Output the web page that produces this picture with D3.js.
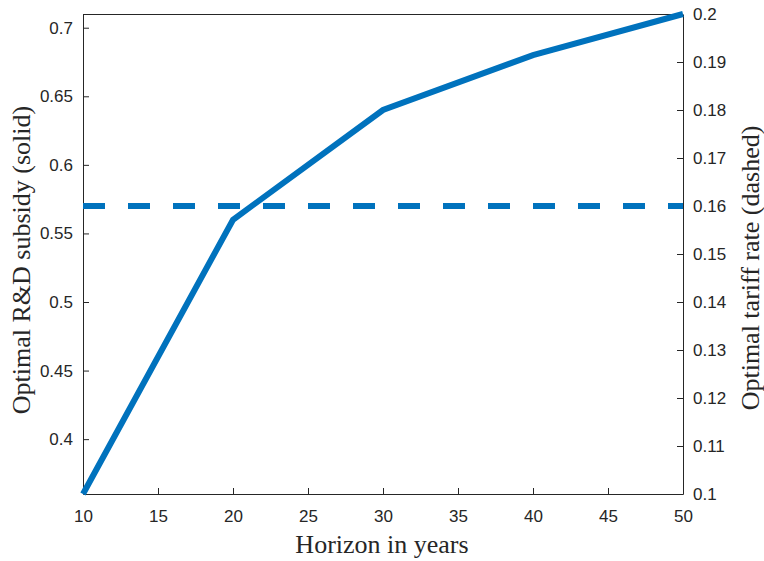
<!DOCTYPE html>
<html><head><meta charset="utf-8">
<script src="https://cdn.jsdelivr.net/npm/d3@7"></script>
<style>body{margin:0;background:#fff}</style>
</head><body>
<svg id="c" width="764" height="561"></svg>
<script>
const horizons = [10, 20, 30, 40, 50];
const subsidy = [0.36, 0.56, 0.64, 0.68, 0.71];
const tariff = [0.16, 0.16, 0.16, 0.16, 0.16];
const xTicks = [10, 15, 20, 25, 30, 35, 40, 45, 50];
const yLeftTicks = [0.4, 0.45, 0.5, 0.55, 0.6, 0.65, 0.7];
const yRightTicks = [0.1, 0.11, 0.12, 0.13, 0.14, 0.15, 0.16, 0.17, 0.18, 0.19, 0.2];

const L = 83, R = 683, T = 14, B = 494;
const svg = d3.select("#c");
const x = d3.scaleLinear().domain([10, 50]).range([L, R]);
const yL = d3.scaleLinear().domain([0.36, 0.71]).range([B, T]);
const yR = d3.scaleLinear().domain([0.1, 0.2]).range([B, T]);
const color = "#0072BD";
const tickFont = "Liberation Sans, Arial, sans-serif";
const labFont = "Liberation Serif, Times New Roman, serif";

function style(g){
  g.selectAll("path.domain").attr("stroke","#262626").attr("stroke-width",1);
  g.selectAll(".tick line").attr("stroke","#262626");
  g.selectAll(".tick text").attr("font-family",tickFont).attr("font-size",17).attr("fill","#262626");
}
const fmt = d => String(+d.toFixed(3));

svg.append("g").attr("transform",`translate(0,${B})`)
  .call(d3.axisBottom(x).tickValues(xTicks).tickSizeInner(-6).tickSizeOuter(0).tickPadding(16).tickFormat(fmt))
  .call(style);
svg.append("g").attr("transform",`translate(${L},0)`)
  .call(d3.axisLeft(yL).tickValues(yLeftTicks).tickSizeInner(-6).tickSizeOuter(0).tickPadding(10).tickFormat(fmt))
  .call(style);
svg.append("g").attr("transform",`translate(${R},0)`)
  .call(d3.axisRight(yR).tickValues(yRightTicks).tickSizeInner(-6).tickSizeOuter(0).tickPadding(10).tickFormat(fmt))
  .call(style);
svg.append("line").attr("x1",L).attr("x2",R).attr("y1",T+0.5).attr("y2",T+0.5).attr("stroke","#262626");

const idx = d3.range(horizons.length);
svg.append("path")
  .attr("d", d3.line().x(i=>x(horizons[i])).y(i=>yR(tariff[i]))(idx))
  .attr("fill","none").attr("stroke",color).attr("stroke-width",6).attr("stroke-dasharray","22,23");
svg.append("path")
  .attr("d", d3.line().x(i=>x(horizons[i])).y(i=>yL(subsidy[i]))(idx))
  .attr("fill","none").attr("stroke",color).attr("stroke-width",6).attr("stroke-linejoin","miter");

svg.append("text").attr("x",382).attr("y",553).attr("text-anchor","middle")
  .attr("font-family",labFont).attr("font-size",26).attr("fill","#262626").text("Horizon in years");
svg.append("text").attr("transform",`translate(30,260) rotate(-90)`).attr("text-anchor","middle")
  .attr("font-family",labFont).attr("font-size",26).attr("fill","#262626").text("Optimal R&D subsidy (solid)");
svg.append("text").attr("transform",`translate(759,268) rotate(-90)`).attr("text-anchor","middle")
  .attr("font-family",labFont).attr("font-size",26).attr("fill","#262626").text("Optimal tariff rate (dashed)");
</script>
</body></html>
